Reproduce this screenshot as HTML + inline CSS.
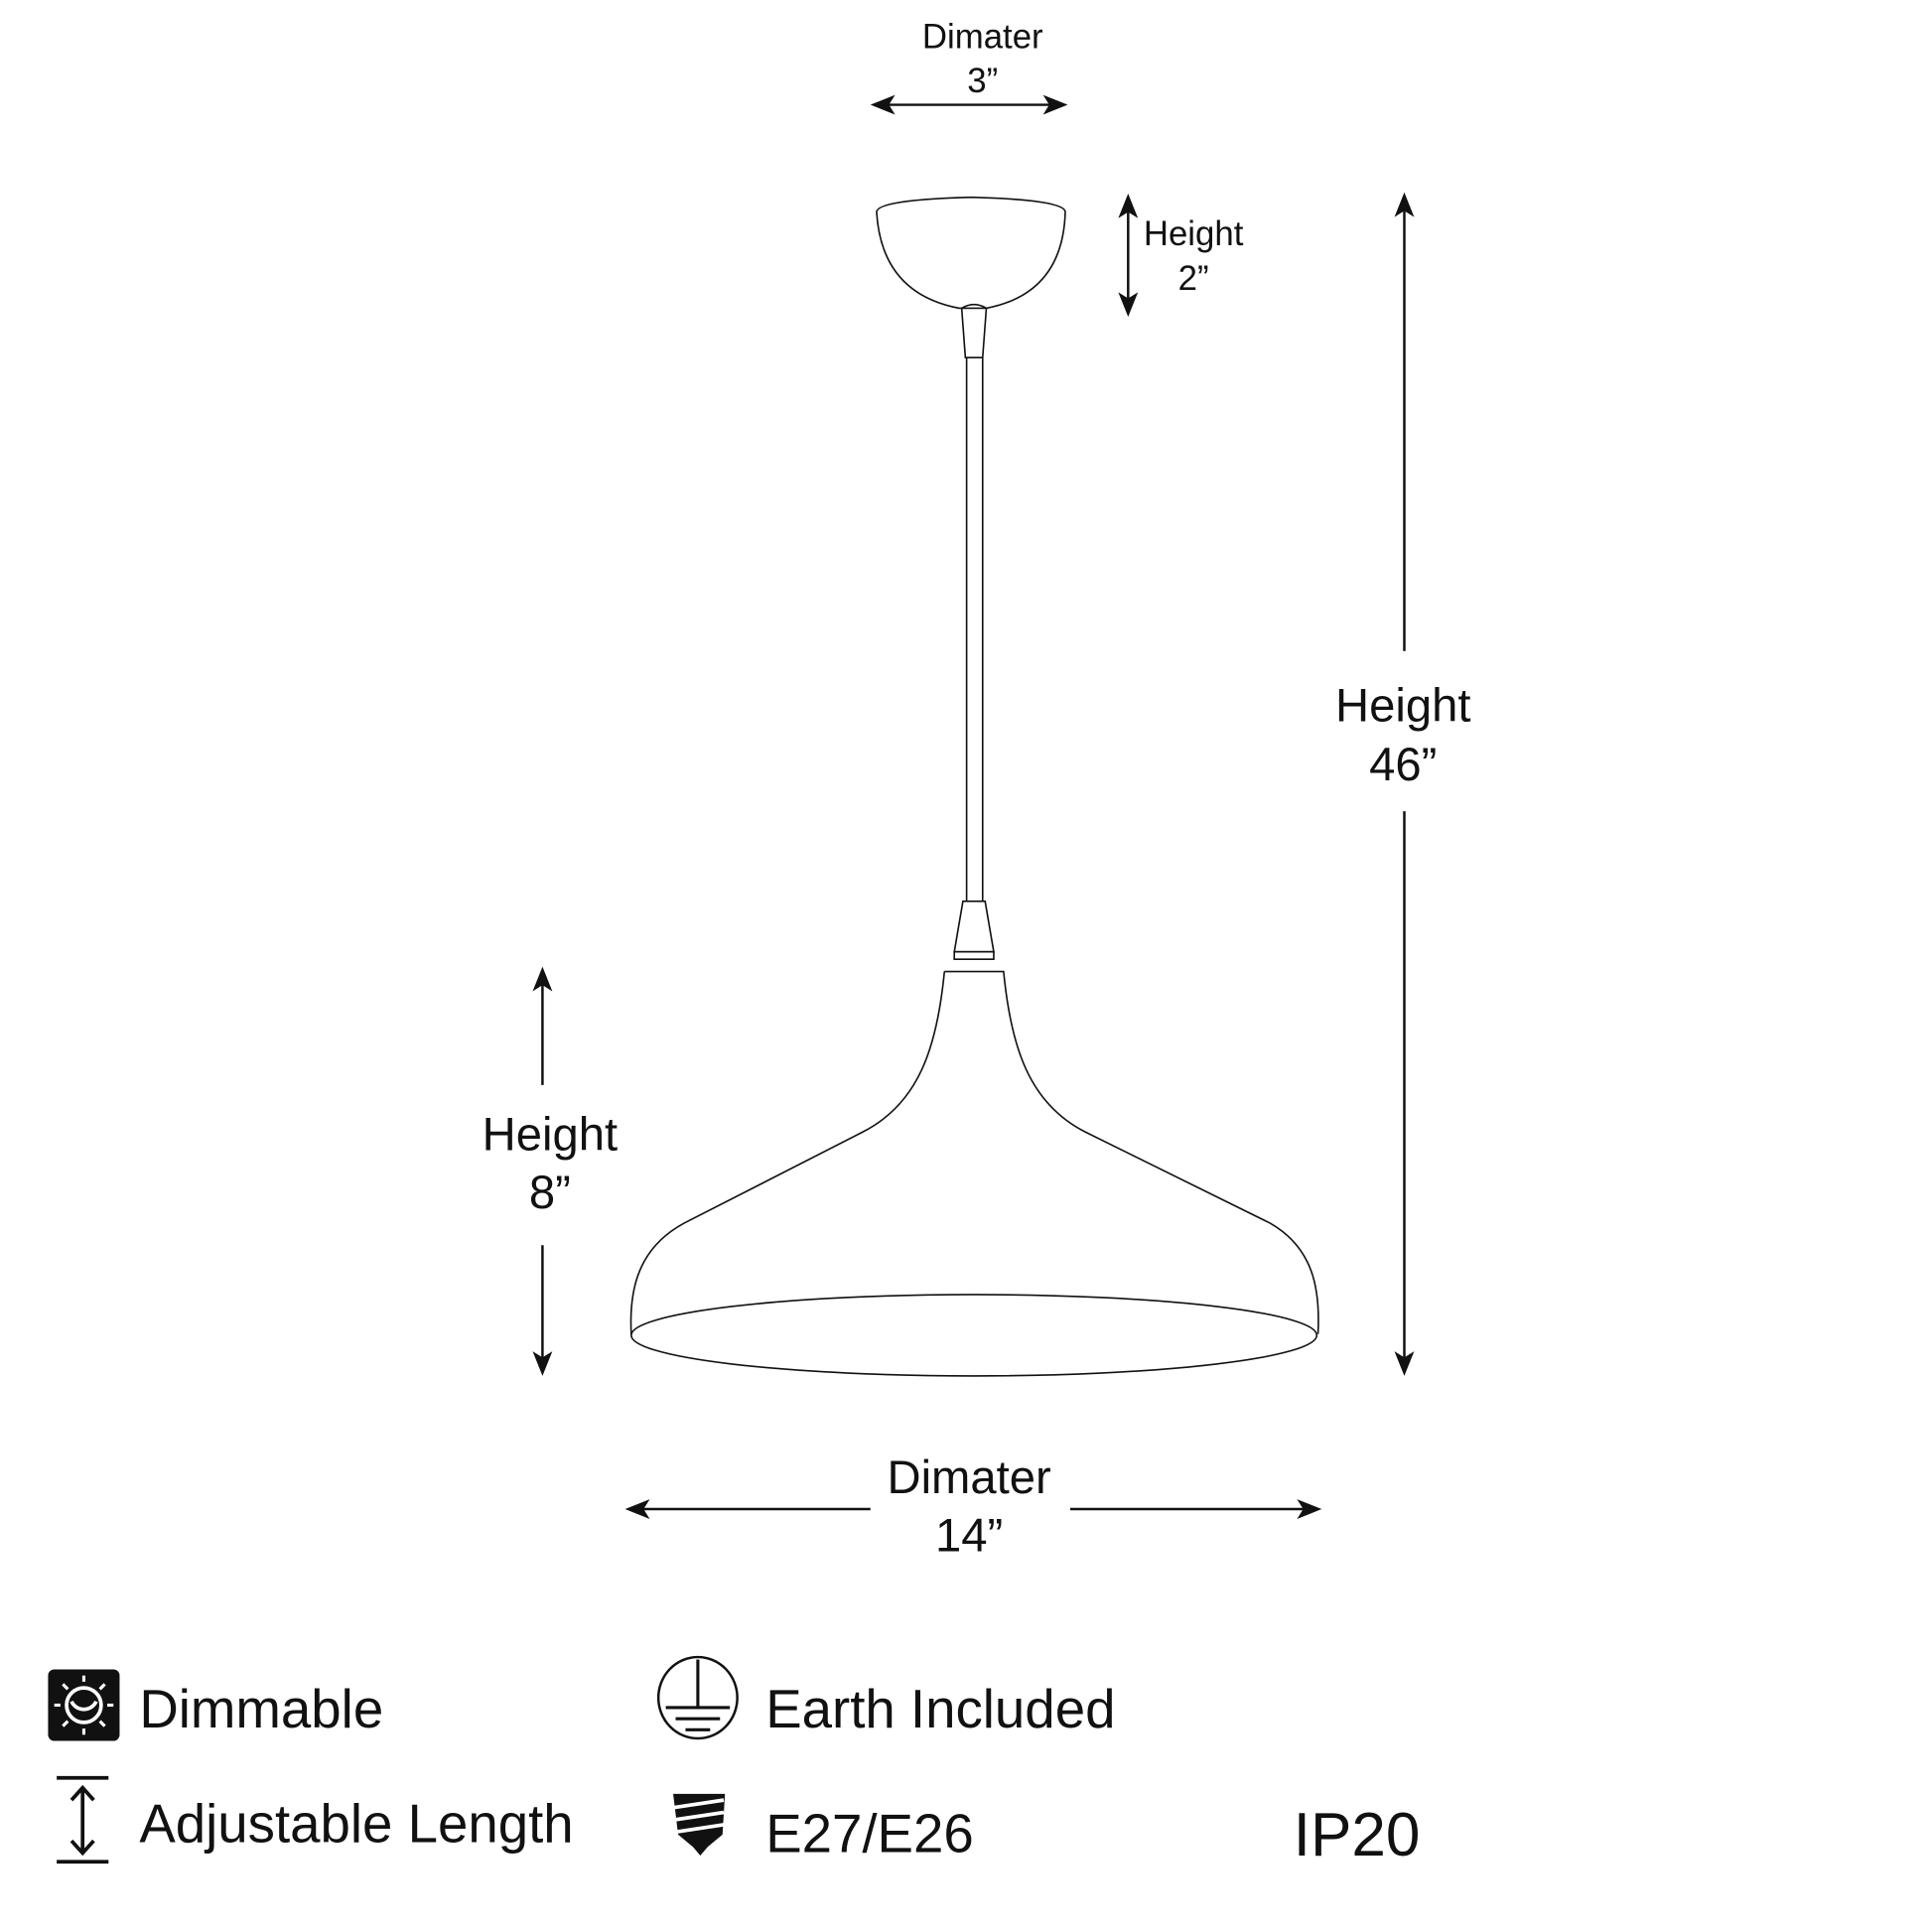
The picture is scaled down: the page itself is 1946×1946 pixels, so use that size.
<!DOCTYPE html>
<html><head><meta charset="utf-8"><style>
html,body{margin:0;padding:0;background:#fff;width:1946px;height:1946px;overflow:hidden}
svg{display:block}
text{font-family:"Liberation Sans Narrow","Liberation Sans",sans-serif;fill:#111}
</style></head><body>
<svg width="1946" height="1946" viewBox="0 0 1567 1567" xmlns="http://www.w3.org/2000/svg">
<defs>
<marker id="ah" viewBox="0 0 10 10" refX="9" refY="5" markerWidth="7" markerHeight="7" orient="auto-start-reverse" markerUnits="userSpaceOnUse">
</marker>
</defs>
<g stroke="#111" fill="none" stroke-width="2">
<!-- top diameter arrow -->
<line x1="712" y1="85" x2="860" y2="85"/>
<!-- canopy -->
<path d="M711,172 Q711,162 788,160 Q864,162 864,172 Q862,238 800,250 L778,250 Q715,238 711,172 Z" stroke-width="1.3"/>
<path d="M780,250 Q790,244 800,250 L797,290 L783,290 Z" stroke-width="1.3"/>
<line x1="784" y1="290" x2="784" y2="731" stroke-width="1.3"/>
<line x1="797" y1="290" x2="797" y2="731" stroke-width="1.3"/>
<path d="M781,731 L799,731 L806,772 L774,772 Z" stroke-width="1.3"/>
<path d="M774,772 L806,772 L806,778 L774,778 Z" stroke-width="1.3"/>
<!-- shade -->
<path d="M766,788 L814,788 C820,850 835,895 880,918 L1030,992 C1065,1012 1071,1045 1069,1082" stroke-width="1.3"/>
<path d="M766,788 C760,850 745,895 700,918 L555,992 C518,1012 510,1045 512,1082" stroke-width="1.3"/>
<ellipse cx="790" cy="1083" rx="278" ry="33" stroke-width="1.3"/>
<!-- arrows -->
<line x1="915" y1="162" x2="915" y2="252"/>
<line x1="1139" y1="162" x2="1139" y2="528"/>
<line x1="1139" y1="658" x2="1139" y2="1110"/>
<line x1="440" y1="790" x2="440" y2="880"/>
<line x1="440" y1="1010" x2="440" y2="1110"/>
<line x1="512" y1="1224" x2="706" y2="1224"/>
<line x1="868" y1="1224" x2="1067" y2="1224"/>
</g>
<g fill="#111">
<!-- arrowheads -->
<path d="M706,85 L726,77 L721,85 L726,93 Z"/>
<path d="M866,85 L846,77 L851,85 L846,93 Z"/>
<path d="M915,157 L923,177 L915,172 L907,177 Z"/>
<path d="M915,257 L923,237 L915,242 L907,237 Z"/>
<path d="M1139,156 L1147,176 L1139,171 L1131,176 Z"/>
<path d="M1139,1116 L1147,1096 L1139,1101 L1131,1096 Z"/>
<path d="M440,784 L448,804 L440,799 L432,804 Z"/>
<path d="M440,1116 L448,1096 L440,1101 L432,1096 Z"/>
<path d="M507,1224 L527,1216 L522,1224 L527,1232 Z"/>
<path d="M1072,1224 L1052,1216 L1057,1224 L1052,1232 Z"/>
</g>
<g text-anchor="middle">
<text x="797" y="39" font-size="28">Dimater</text>
<text x="797" y="75" font-size="28">3”</text>
<text x="968" y="199" font-size="28">Height</text>
<text x="968" y="235" font-size="28">2”</text>
<text x="1138" y="585" font-size="38">Height</text>
<text x="1138" y="633" font-size="38">46”</text>
<text x="446" y="933" font-size="38">Height</text>
<text x="446" y="980" font-size="38">8”</text>
<text x="786" y="1211" font-size="38">Dimater</text>
<text x="786" y="1258" font-size="38">14”</text>
</g>
<!-- legend -->
<rect x="39" y="1354" width="58" height="58" rx="5" fill="#111"/>
<circle cx="68" cy="1383" r="14" fill="none" stroke="#fff" stroke-width="3"/>
<path d="M58,1380 A11,11 0 0 0 78,1380" fill="none" stroke="#fff" stroke-width="3"/>
<g stroke="#fff" stroke-width="2.5">
<line x1="68" y1="1359" x2="68" y2="1364"/><line x1="68" y1="1402" x2="68" y2="1407"/>
<line x1="44" y1="1383" x2="49" y2="1383"/><line x1="87" y1="1383" x2="92" y2="1383"/>
<line x1="51" y1="1366" x2="55" y2="1370"/><line x1="85" y1="1366" x2="81" y2="1370"/>
<line x1="51" y1="1400" x2="55" y2="1396"/><line x1="85" y1="1400" x2="81" y2="1396"/>
</g>
<text x="113" y="1401" font-size="44">Dimmable</text>
<ellipse cx="566" cy="1377" rx="32" ry="33" fill="none" stroke="#111" stroke-width="2"/>
<g stroke="#111" stroke-width="2.5">
<line x1="566" y1="1346" x2="566" y2="1385"/>
<line x1="540" y1="1385" x2="592" y2="1385"/>
<line x1="548" y1="1394" x2="584" y2="1394"/>
<line x1="556" y1="1403" x2="576" y2="1403"/>
</g>
<text x="621" y="1401" font-size="44">Earth Included</text>
<g stroke="#111" stroke-width="3" fill="none">
<line x1="46" y1="1442" x2="88" y2="1442"/>
<line x1="46" y1="1510" x2="88" y2="1510"/>
<line x1="67" y1="1450" x2="67" y2="1503"/>
<path d="M58,1460 L67,1450 L76,1460"/>
<path d="M58,1493 L67,1503 L76,1493"/>
</g>
<text x="113" y="1494" font-size="44">Adjustable Length</text>
<path d="M546,1455 L588,1455 L586,1488 L574,1498 L568,1505 L562,1498 L550,1488 Z" fill="#111"/>
<g stroke="#fff" stroke-width="3">
<line x1="547" y1="1466" x2="587" y2="1460"/>
<line x1="547" y1="1476" x2="587" y2="1470"/>
<line x1="547" y1="1486" x2="587" y2="1480"/>
</g>
<text x="621" y="1502" font-size="44">E27/E26</text>
<text x="1049" y="1505" font-size="50">IP20</text>
</svg>
</body></html>
